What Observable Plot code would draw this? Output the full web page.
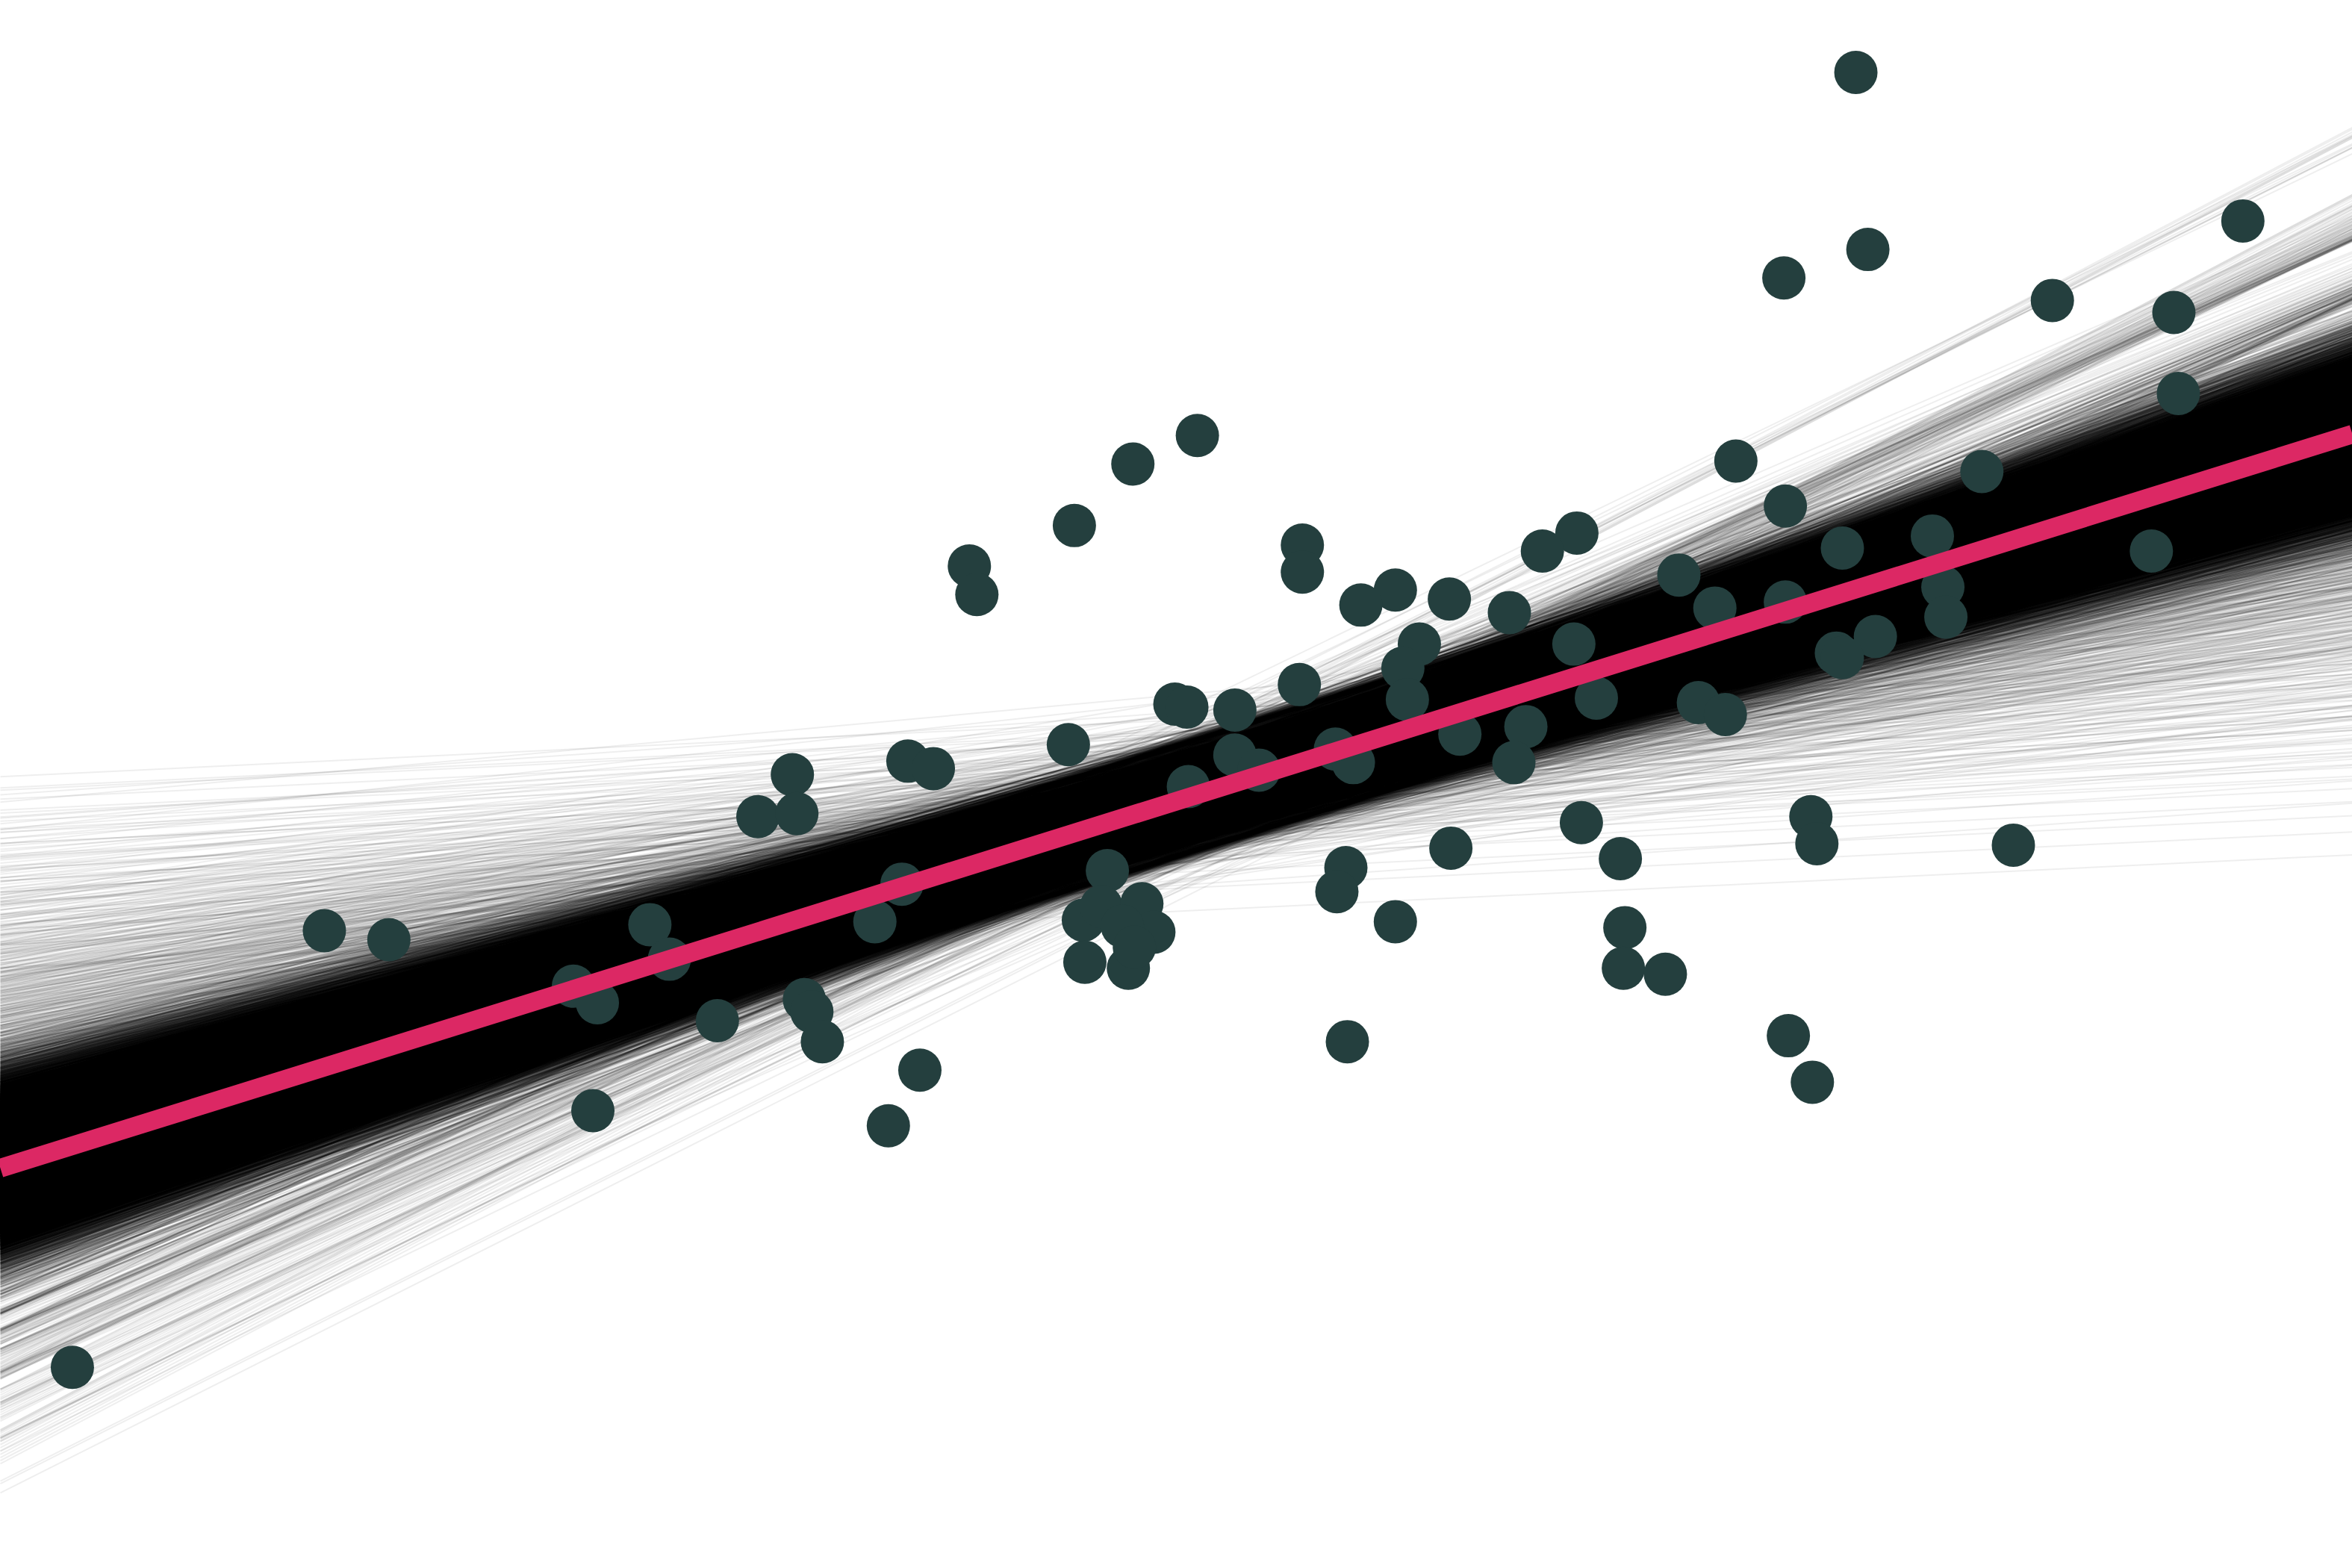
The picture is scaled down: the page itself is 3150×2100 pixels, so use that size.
<!DOCTYPE html>
<html>
<head>
<meta charset="utf-8">
<script src="https://cdn.jsdelivr.net/npm/d3@7"></script>
<script src="https://cdn.jsdelivr.net/npm/@observablehq/plot@0.6"></script>
<style>
  html, body { margin: 0; padding: 0; background: #ffffff; overflow: hidden; }
  #chart svg { display: block; }
</style>
</head>
<body>
<div id="chart"></div>
<script>
// ---- data ----
const xExtent = [0, 15.68];
const yExtent = [0, 10.45];

// observed points
const pointX = [12.37,14.95,12.45,11.89,13.68,14.49,14.52,7.98,7.55,11.57,
  13.21,11.90,7.16,8.68,10.51,10.28,12.88,12.28,14.34,6.46,
  6.51,8.68,11.19,9.30,9.07,9.66,10.06,11.43,11.90,12.95,
  12.97,9.46,9.35,10.49,12.50,12.24,12.28,8.66,9.38,10.64,
  11.32,11.50,7.83,7.91,8.23,7.12,8.90,9.02,9.73,10.17,
  10.09,8.23,8.39,7.92,6.05,6.22,5.28,5.05,5.31,10.54,
  12.07,12.11,10.80,13.42,9.67,8.97,8.91,9.30,6.01,5.83,
  7.38,7.22,7.34,7.61,7.69,7.48,7.23,7.52,7.56,10.83,
  10.82,11.10,2.16,2.59,4.33,4.46,3.82,3.98,4.78,5.36,
  5.41,5.48,6.13,5.92,3.95,8.98,11.92,12.08,0.48];
const pointY = [9.97,8.98,8.79,8.60,8.45,8.37,7.83,7.55,7.36,7.38,
  7.31,7.08,6.95,6.82,6.90,6.78,6.88,6.80,6.78,6.68,
  6.49,6.64,6.62,6.52,6.42,6.46,6.37,6.40,6.44,6.54,
  6.34,6.16,6.00,6.16,6.21,6.10,6.07,5.89,5.79,5.80,
  5.77,5.69,5.76,5.74,5.72,5.49,5.46,5.37,5.56,5.61,
  5.37,5.42,5.32,5.21,5.38,5.33,5.29,5.01,5.03,4.97,
  5.01,4.83,4.73,4.82,4.80,4.67,4.51,4.31,4.56,4.31,
  4.65,4.32,4.41,4.43,4.24,4.28,4.04,4.00,4.14,4.27,
  4.00,3.96,4.25,4.19,4.29,4.06,3.88,3.77,3.65,3.79,
  3.71,3.51,3.32,2.95,3.05,3.51,3.55,3.24,1.34];

// fitted line (pink)
const fitIntercept = 2.667;
const fitSlope = 0.312;

// sampled regression lines (main bundle): slopes, pivot positions, and
// offsets of each line from the fitted line at its pivot
const pivotX = [6.6,6.8,7.0,7.2,7.4,7.6,7.8,8.0,8.2,8.4,8.6,8.8,9.0,9.2,9.4,9.6];
const mainSlopes = [0.241,0.254,0.261,0.266,0.271,0.274,0.277,0.280,0.282,0.286,
  0.288,0.290,0.292,0.293,0.295,0.297,0.298,0.300,0.301,0.304,
  0.305,0.307,0.308,0.310,0.311,0.313,0.314,0.315,0.316,0.318,
  0.319,0.321,0.323,0.324,0.325,0.327,0.328,0.330,0.332,0.333,
  0.335,0.337,0.340,0.342,0.345,0.348,0.351,0.356,0.362,0.374];
const mainOffsets = [-0.369,-0.301,-0.267,-0.242,-0.222,-0.205,-0.191,-0.177,-0.166,-0.154,
  -0.144,-0.135,-0.125,-0.116,-0.108,-0.100,-0.092,-0.085,-0.077,-0.069,
  -0.063,-0.056,-0.048,-0.043,-0.036,-0.029,-0.023,-0.016,-0.009,-0.002,
  0.002,0.009,0.016,0.023,0.029,0.036,0.043,0.048,0.056,0.063,
  0.069,0.077,0.085,0.092,0.100,0.108,0.116,0.125,0.135,0.144,
  0.154,0.166,0.177,0.191,0.205,0.222,0.242,0.267,0.301,0.369];

// outlying draws (grey fringe of the bundle)
const tailSlopes = [0.048,0.070,0.091,0.109,0.125,0.137,0.147,0.157,0.165,0.172,
  0.178,0.184,0.190,0.195,0.200,0.205,0.210,0.215,0.220,
  0.401,0.406,0.411,0.416,0.421,0.427,0.433,0.440,0.447,0.456,
  0.469,0.484,0.503,0.525];
const tailOffsets = [-0.407,-0.307,-0.252,-0.211,-0.177,-0.148,-0.122,-0.098,-0.075,-0.053,-0.031,-0.010,
  0.010,0.031,0.053,0.075,0.098,0.122,0.148,0.177,0.211,0.252,0.307,0.407];

// ---- tables built from the arrays ----
const points = pointX.map((x, i) => ({x, y: pointY[i]}));
const fitAt = x => fitIntercept + fitSlope * x;
const lineRow = (px, py, b) => ({
  x1: xExtent[0], x2: xExtent[1],
  y1: py + b * (xExtent[0] - px),
  y2: py + b * (xExtent[1] - px)
});
const mainLines = [];
pivotX.forEach((px, k) => {
  mainOffsets.forEach(o => {
    mainSlopes.forEach((b, j) => {
      if (j % 4 === k % 4) mainLines.push(lineRow(px, fitAt(px) + o, b));
    });
  });
});
const tailLines = [];
tailSlopes.forEach((b, j) => tailOffsets.forEach((o, i) => {
  const px = pivotX[(i + 3 * j) % pivotX.length];
  tailLines.push(lineRow(px, fitAt(px) + o, b));
}));
const fit = [{x1: xExtent[0], x2: xExtent[1], y1: fitAt(xExtent[0]), y2: fitAt(xExtent[1])}];

const chart = Plot.plot({
  width: 3150,
  height: 2100,
  margin: 0,
  style: {background: "#ffffff"},
  x: {domain: xExtent, axis: null},
  y: {domain: yExtent, axis: null},
  marks: [
    Plot.link(tailLines, {x1: "x1", y1: "y1", x2: "x2", y2: "y2",
      stroke: "#000000", strokeOpacity: 0.065, strokeWidth: 2}),
    Plot.link(mainLines, {x1: "x1", y1: "y1", x2: "x2", y2: "y2",
      stroke: "#000000", strokeOpacity: 0.13, strokeWidth: 2}),
    Plot.dot(points, {x: "x", y: "y", r: 29, fill: "#243f3e"}),
    Plot.link(fit, {x1: "x1", y1: "y1", x2: "x2", y2: "y2",
      stroke: "#dc2864", strokeWidth: 25, strokeLinecap: "butt"})
  ]
});
document.getElementById("chart").appendChild(chart);
</script>
</body>
</html>
